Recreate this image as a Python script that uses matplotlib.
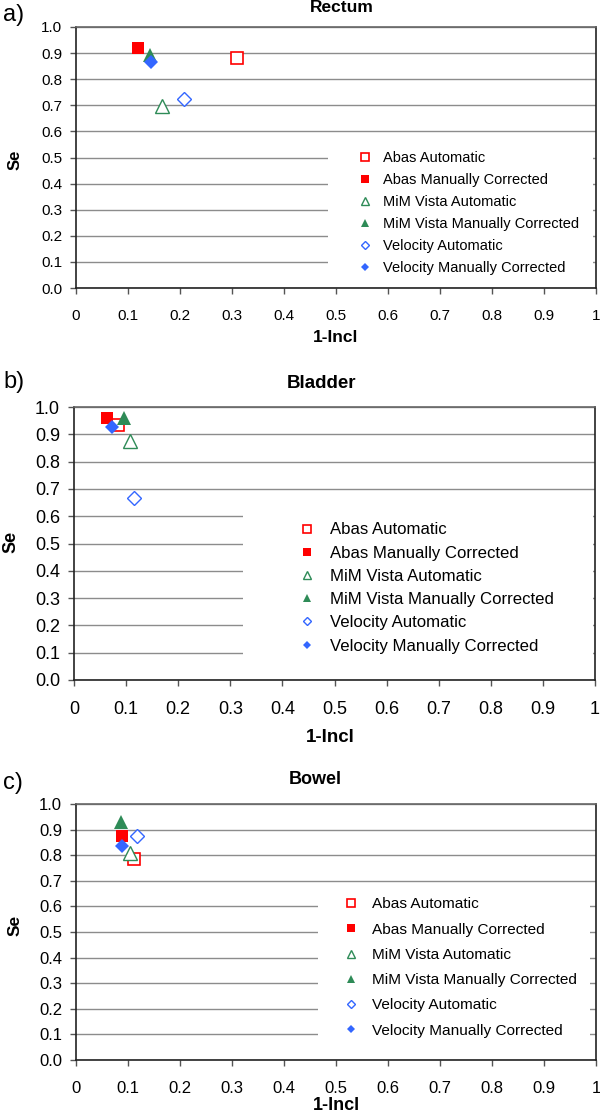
import matplotlib
matplotlib.use("Agg")
import matplotlib.pyplot as plt
from matplotlib.patches import Rectangle

plt.rcParams['font.family'] = ['Liberation Sans', 'DejaVu Sans']

labels = ["Abas Automatic", "Abas Manually Corrected",
          "MiM Vista Automatic", "MiM Vista Manually Corrected",
          "Velocity Automatic", "Velocity Manually Corrected"]

rectum_x = [0.310, 0.119, 0.165, 0.142, 0.208, 0.144]
rectum_y = [0.880, 0.920, 0.697, 0.893, 0.724, 0.866]

bladder_x = [0.085, 0.063, 0.107, 0.096, 0.115, 0.073]
bladder_y = [0.934, 0.960, 0.875, 0.960, 0.667, 0.927]

bowel_x = [0.112, 0.088, 0.104, 0.087, 0.117, 0.088]
bowel_y = [0.785, 0.875, 0.810, 0.930, 0.875, 0.836]

xticks = [0, 0.1, 0.2, 0.3, 0.4, 0.5, 0.6, 0.7, 0.8, 0.9, 1]
xticklabels = ["0", "0.1", "0.2", "0.3", "0.4", "0.5", "0.6", "0.7", "0.8", "0.9", "1"]
yticks = [0.0, 0.1, 0.2, 0.3, 0.4, 0.5, 0.6, 0.7, 0.8, 0.9, 1.0]

red = '#FF0000'
green = '#2E8B57'
blue = '#3366FF'
styles = [
    dict(marker='s', mfc='white', mec=red, mew=1.2),
    dict(marker='s', mfc=red, mec=red, mew=0),
    dict(marker='^', mfc='white', mec=green, mew=1.0),
    dict(marker='^', mfc=green, mec=green, mew=0),
    dict(marker='D', mfc='white', mec=blue, mew=1.0),
    dict(marker='D', mfc=blue, mec=blue, mew=0),
]
msizes = [8.5, 8.5, 9.5, 9.5, 7, 7]

W, H = 600, 1116
fig = plt.figure(figsize=(W / 100, H / 100), dpi=100)

# per panel: axes box in px, tick size, legend size, legend anchor (center left),
# labelspacing, handletextpad, white box behind legend (axes coords),
# title (x, y, size), tag y, "Se" (x, y, size), xlabel (x, y, size)
panels = [
    dict(name="Rectum", tag="a)", xs=rectum_x, ys=rectum_y, box=(76, 27, 596, 288),
         tfs=11, lfs=10.5, anchor=(0.542, 0.287), lsp=0.54, htp=0.735,
         wbox=(0.485, 0.023, 0.994, 0.556),
         title=(342, 8, 12.5), tagy=15, se=(15, 160, 12), xl=(336, 338, 12.5)),
    dict(name="Bladder", tag="b)", xs=bladder_x, ys=bladder_y, box=(74, 407, 595, 680),
         tfs=13, lfs=12.1, anchor=(0.431, 0.337), lsp=0.49, htp=0.87,
         wbox=(0.324, 0.044, 0.996, 0.641),
         title=(321, 384, 13.5), tagy=382, se=(11, 542, 13), xl=(330, 737, 13.5)),
    dict(name="Bowel", tag="c)", xs=bowel_x, ys=bowel_y, box=(76, 804, 596, 1060),
         tfs=12, lfs=11.1, anchor=(0.514, 0.361), lsp=0.73, htp=0.86,
         wbox=(0.465, 0.047, 0.988, 0.664),
         title=(315, 780, 13), tagy=783, se=(15, 925, 12.5), xl=(336, 1106, 13)),
]

for p in panels:
    l, t, r, b = p['box']
    ax = fig.add_axes([l / W, 1 - b / H, (r - l) / W, (b - t) / H])
    xs, ys = p['xs'], p['ys']
    for i in range(len(labels)):
        ax.plot([xs[i]], [ys[i]], linestyle='none', ms=msizes[i],
                label=labels[i], zorder=3, **styles[i])
    ax.set_xlim(0, 1)
    ax.set_ylim(0, 1)
    ax.set_xticks(xticks)
    ax.set_xticklabels(xticklabels)
    ax.set_yticks(yticks)
    ax.set_yticklabels(["%.1f" % v for v in yticks])
    ax.yaxis.grid(True, color='#8c8c8c', linewidth=1.0)
    ax.set_axisbelow(True)
    ax.tick_params(axis='both', direction='out', length=4, width=1,
                   color='#555555', labelsize=p['tfs'])
    ax.tick_params(axis='x', pad=11)
    ax.tick_params(axis='y', pad=6)
    for s in ax.spines.values():
        s.set_color('#222222')
        s.set_linewidth(1.2)
    ax.spines['top'].set_color('#666666')

    x0, y0, x1, y1 = p['wbox']
    ax.add_patch(Rectangle((x0, y0), x1 - x0, y1 - y0, transform=ax.transAxes,
                           facecolor='white', edgecolor='none', zorder=1))
    ax.legend(loc='center left', bbox_to_anchor=p['anchor'], fontsize=p['lfs'],
              frameon=False, borderpad=0, borderaxespad=0,
              handlelength=1.0, handletextpad=p['htp'],
              labelspacing=p['lsp'], markerscale=0.65)

    tx, ty, tsz = p['title']
    fig.text(tx / W, 1 - ty / H, p['name'], ha='center', va='center',
             fontsize=tsz, fontweight='bold')
    fig.text(3 / W, 1 - p['tagy'] / H, p['tag'], ha='left', va='center', fontsize=17)
    sx, sy, ssz = p['se']
    fig.text(sx / W, 1 - sy / H, "Se", ha='center', va='center',
             rotation=90, fontsize=ssz, fontweight='bold')
    lx, ly, lsz = p['xl']
    fig.text(lx / W, 1 - ly / H, "1-Incl", ha='center', va='center',
             fontsize=lsz, fontweight='bold')

fig.savefig("out.png", dpi=100)
